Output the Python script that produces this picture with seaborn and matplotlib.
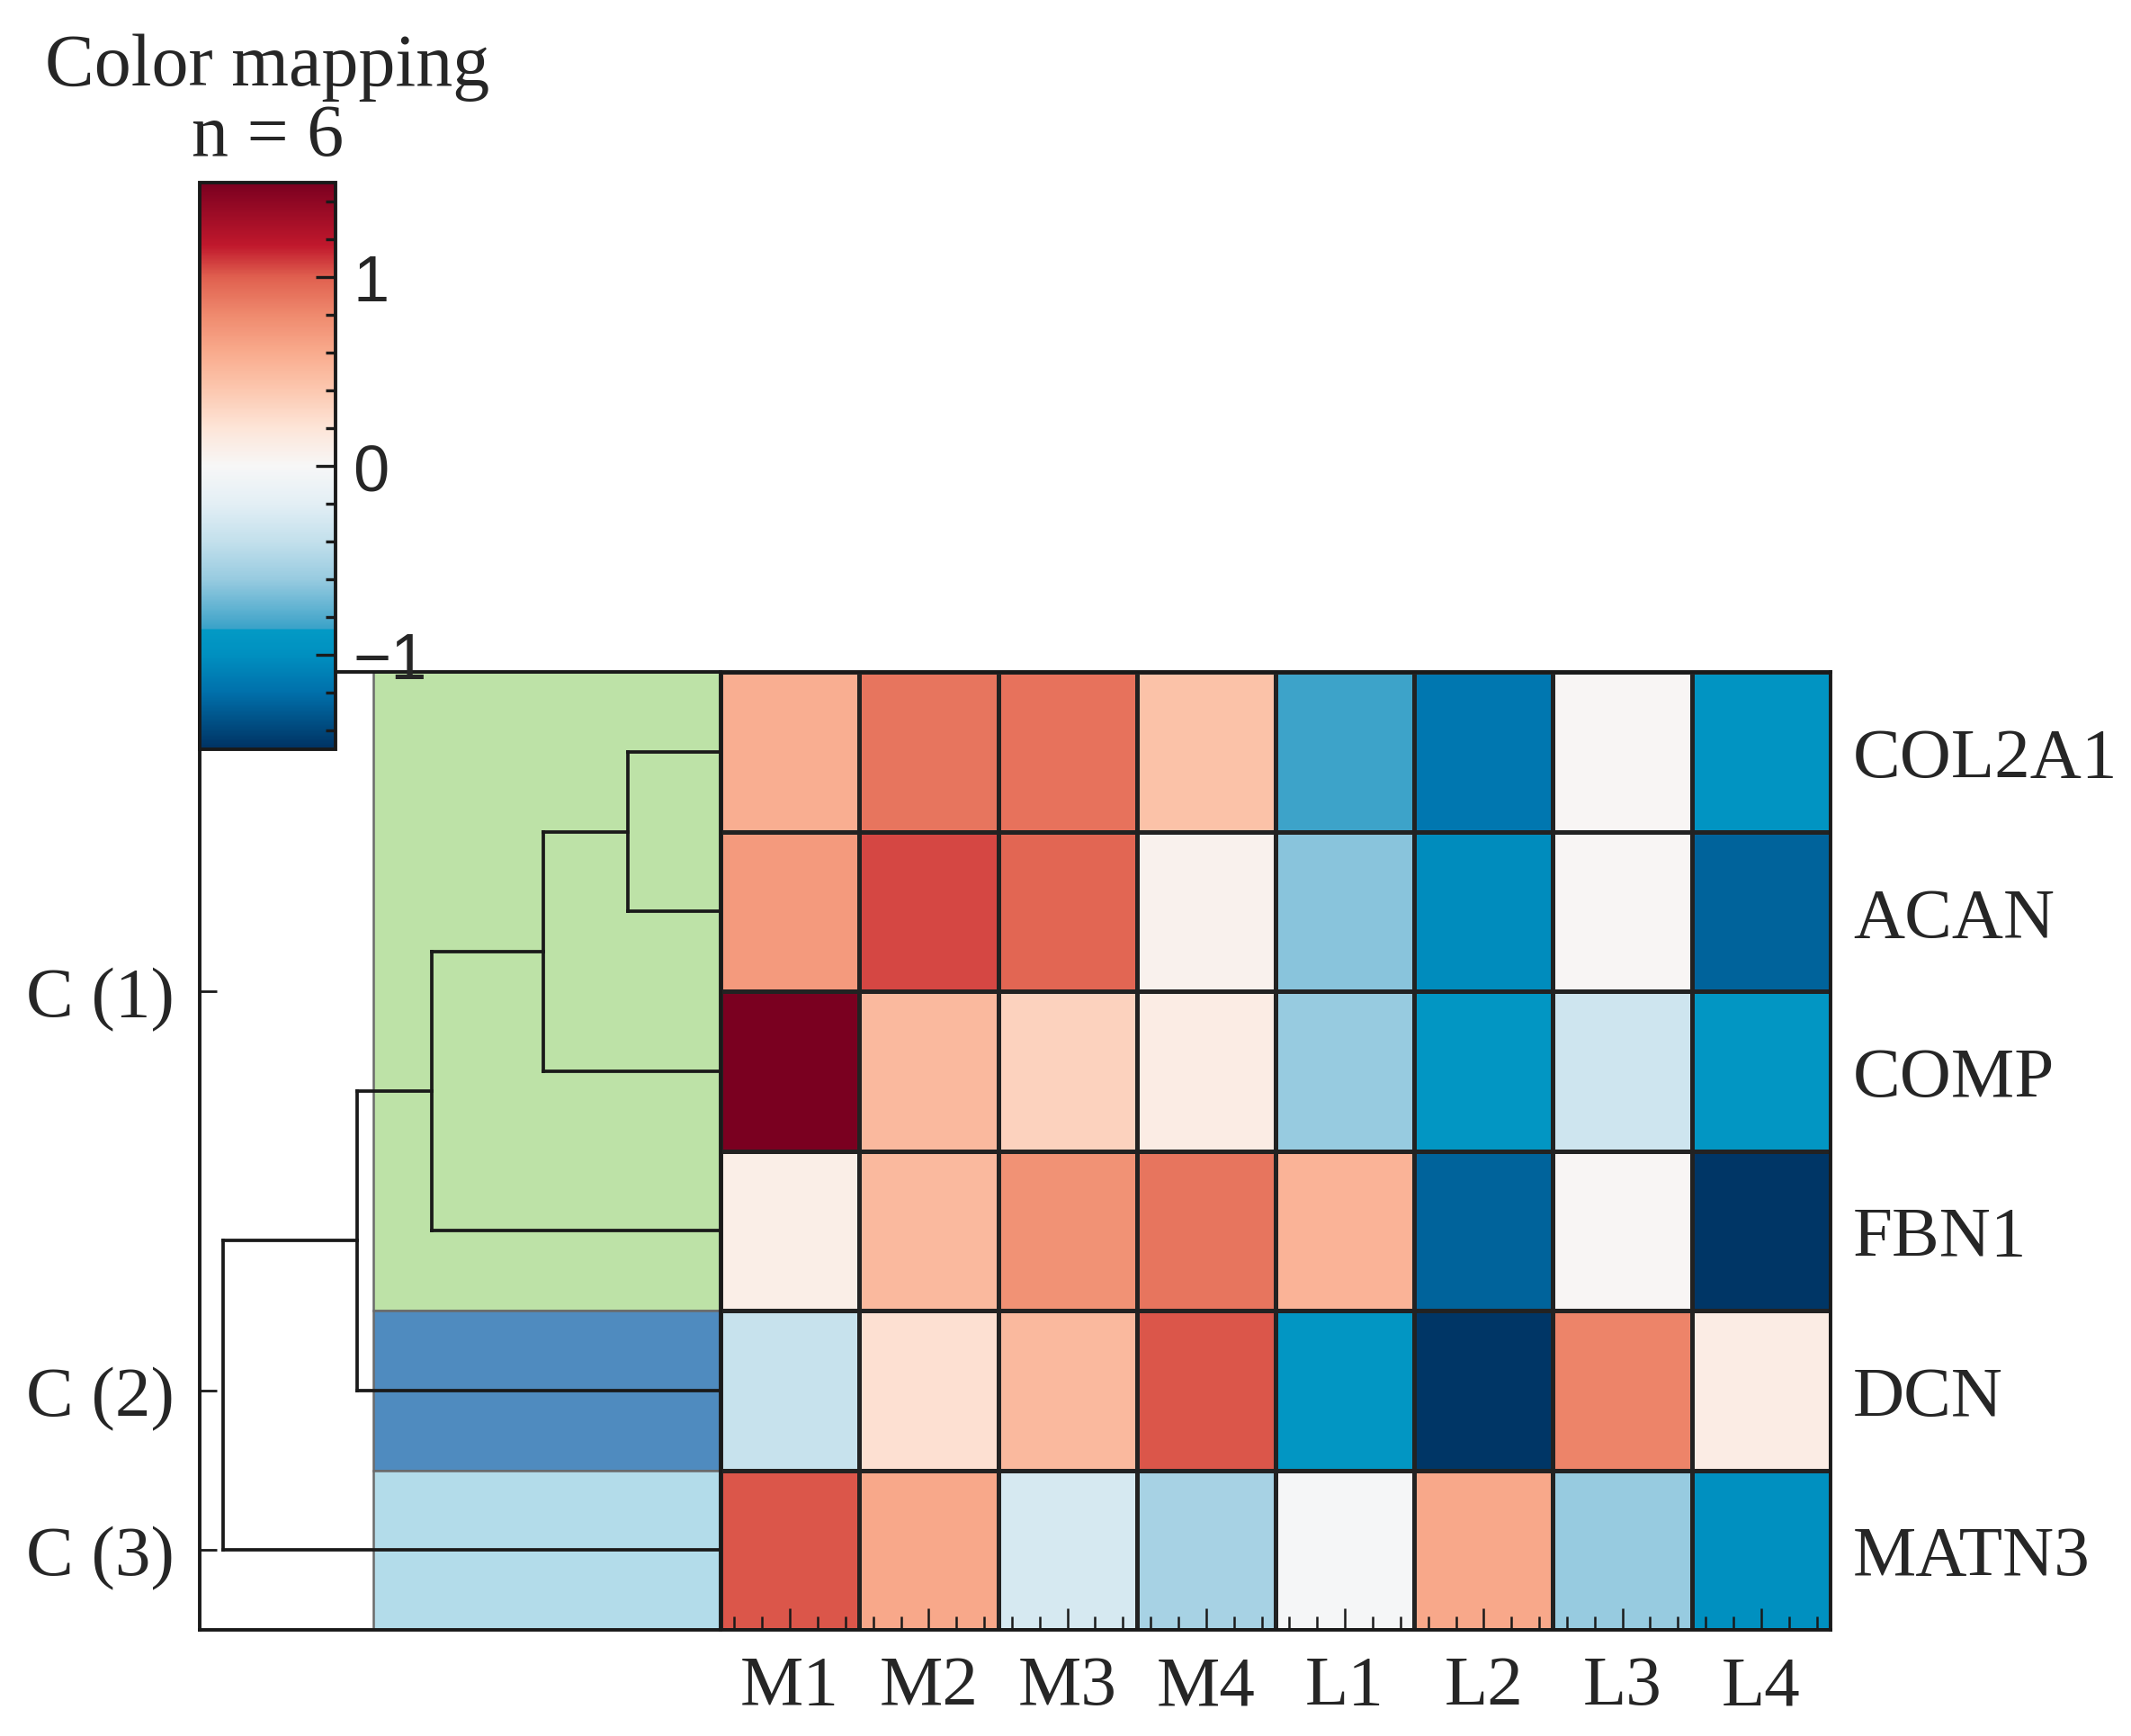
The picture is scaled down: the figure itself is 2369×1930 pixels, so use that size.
import matplotlib
matplotlib.use("Agg")
import matplotlib.pyplot as plt
import numpy as np
import pandas as pd
import seaborn as sns
from matplotlib.colors import LinearSegmentedColormap
from matplotlib.ticker import FixedLocator, MultipleLocator

genes = ["COL2A1", "ACAN", "COMP", "FBN1", "DCN", "MATN3"]
samples = ["M1", "M2", "M3", "M4", "L1", "L2", "L3", "L4"]

col2a1 = [0.58, 0.90, 0.91, 0.44, -0.85, -1.15, 0.02, -0.95]
acan = [0.70, 1.06, 0.97, 0.06, -0.64, -1.02, 0.02, -1.26]
comp = [1.50, 0.50, 0.33, 0.12, -0.60, -0.92, -0.33, -0.92]
fbn1 = [0.10, 0.50, 0.75, 0.90, 0.54, -1.26, 0.02, -1.48]
dcn = [-0.37, 0.23, 0.50, 1.02, -0.92, -1.48, 0.83, 0.12]
matn3 = [1.02, 0.62, -0.28, -0.53, -0.02, 0.62, -0.60, -1.00]

# row dendrogram (scipy-style ids: leaves 0..5, new nodes 6..)
merge_pairs = [(0, 1), (6, 2), (7, 3), (8, 4), (9, 5)]
merge_heights = [1.03, 1.97, 3.21, 4.04, 5.53]

clusters = [1, 1, 1, 1, 2, 3]
cluster_names = {1: "C (1)", 2: "C (2)", 3: "C (3)"}
cluster_colors = {1: "#bde2a7", 2: "#4f8bbf", 3: "#b3dcea"}

df = pd.DataFrame([col2a1, acan, comp, fbn1, dcn, matn3], index=genes, columns=samples)

stops = [(-1.5, "#003262"), (-1.2, "#0070ab"), (-1.0, "#0090c0"), (-0.87, "#039ac5"),
         (-0.86, "#3ba2c8"), (-0.6, "#98cbe0"), (-0.4, "#c3e0ec"), (-0.2, "#e3eff5"),
         (0.0, "#f7f7f7"), (0.2, "#fde5d8"), (0.4, "#fcc8b0"), (0.6, "#f9ab8d"),
         (0.8, "#ef8a6e"), (1.0, "#e0604f"), (1.17, "#c0182c"), (1.5, "#7a0020")]
cmap = LinearSegmentedColormap.from_list(
    "cmap_custom", [((v + 1.5) / 3.0, c) for v, c in stops], N=512)

sns.set_style("white")
serif = ["Liberation Serif", "DejaVu Serif"]
sans = ["Liberation Sans", "DejaVu Sans"]
plt.rcParams["font.family"] = serif

W, H = 2369, 1931
fig = plt.figure(figsize=(W / 100, H / 100), dpi=100)


def box(x0, y0, x1, y1):
    return [x0 / W, 1 - y1 / H, (x1 - x0) / W, (y1 - y0) / H]


ax_left = fig.add_axes(box(222, 748, 801, 1813))
ax_heat = fig.add_axes(box(801, 748, 2035, 1813))
cax = fig.add_axes(box(222, 204, 373, 834))

sns.heatmap(df, ax=ax_heat, cmap=cmap, vmin=-1.5, vmax=1.5,
            linewidths=2.4, linecolor="#222222", cbar_ax=cax)

# heatmap axes
ax_heat.set_axisbelow(False)
for s in ax_heat.spines.values():
    s.set_visible(True)
    s.set_linewidth(2.8)
    s.set_color("#1a1a1a")
ax_heat.set_xlabel("")
ax_heat.set_ylabel("")
ax_heat.yaxis.tick_right()
ax_heat.set_yticklabels(genes, rotation=0, fontsize=57, family=serif)
ax_heat.tick_params(axis="y", length=0, pad=18)
ax_heat.set_xticklabels(samples, rotation=0, fontsize=57, family=serif)
minor = [i + f for i in range(len(samples)) for f in (0.1, 0.3, 0.7, 0.9)]
ax_heat.xaxis.set_minor_locator(FixedLocator(minor))
ax_heat.tick_params(axis="x", which="major", direction="in", length=17, width=1.8,
                    bottom=True, pad=20, color="#1a1a1a")
ax_heat.tick_params(axis="x", which="minor", direction="in", length=11, width=1.8,
                    bottom=True, color="#1a1a1a")

# row colours + dendrogram
n = len(genes)
xmax = 5.79
color_width = 3.86
for c in sorted(set(clusters)):
    rows = [i for i, k in enumerate(clusters) if k == c]
    ax_left.barh((min(rows) + max(rows) + 1) / 2, color_width, height=len(rows), left=0,
                 color=cluster_colors[c], edgecolor="#6a6a6a", linewidth=1.8, zorder=1)

pos = {i: (i + 0.5, 0.0) for i in range(n)}
for k, ((a, b), h) in enumerate(zip(merge_pairs, merge_heights)):
    ya, ha = pos[a]
    yb, hb = pos[b]
    kw = dict(color="#1a1a1a", lw=2.7, zorder=3, solid_capstyle="projecting")
    ax_left.plot([ha, h], [ya, ya], **kw)
    ax_left.plot([hb, h], [yb, yb], **kw)
    ax_left.plot([h, h], [ya, yb], **kw)
    pos[n + k] = ((ya + yb) / 2, h)

ax_left.set_xlim(xmax, 0)
ax_left.set_ylim(n, 0)
ax_left.set_xticks([])
centers, names = [], []
for c in sorted(set(clusters)):
    rows = [i for i, k in enumerate(clusters) if k == c]
    centers.append((min(rows) + max(rows) + 1) / 2)
    names.append(cluster_names[c])
ax_left.set_yticks(centers)
ax_left.set_yticklabels(names, fontsize=57, family=serif)
ax_left.tick_params(axis="y", direction="in", length=14, width=2, left=True, pad=20,
                    color="#1a1a1a")
for side, s in ax_left.spines.items():
    s.set_linewidth(2.8)
    s.set_color("#1a1a1a")
    s.set_visible(side != "right")

# colour bar
cbar = ax_heat.collections[0].colorbar
cbar.set_ticks([-1, 0, 1])
cbar.outline.set_linewidth(2.8)
cbar.outline.set_edgecolor("#1a1a1a")
cax.set_axisbelow(False)
cax.yaxis.set_minor_locator(MultipleLocator(0.2))
cax.tick_params(which="major", direction="in", length=16, width=2.4, right=True,
                pad=14, labelsize=52, color="#1a1a1a")
cax.tick_params(which="minor", direction="in", length=8, width=2.4, right=True,
                color="#1a1a1a")
for t in cax.get_yticklabels():
    t.set_family(sans)
cax.set_title("Color mapping\nn = 6", fontsize=59, family=serif, pad=22,
              linespacing=1.05)
cax.set_zorder(5)

fig.savefig("out.png", dpi=100)
